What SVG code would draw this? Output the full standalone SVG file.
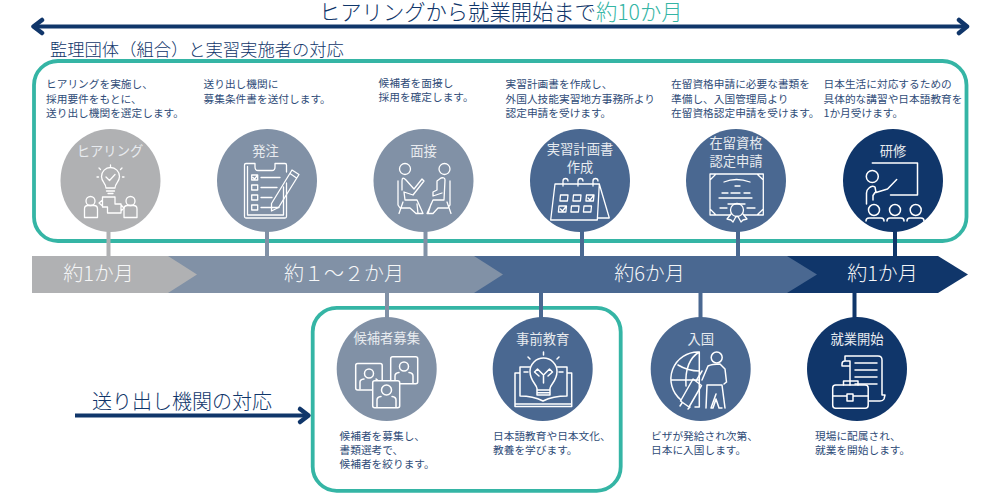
<svg xmlns="http://www.w3.org/2000/svg" width="1000" height="500" viewBox="0 0 1000 500">
<defs>
<style>
text{font-family:"Noto Sans CJK JP","Noto Sans",sans-serif;font-weight:300}
.t{font-size:10.700px;fill:#2f4c78;font-weight:400}
.c{font-size:13.300px;fill:#e8ebef;text-anchor:middle;font-weight:400}
.b{font-size:20px;fill:#f6f7f8;text-anchor:middle}
.h{fill:#10366a}
.box{fill:none;stroke:#35b5a5;stroke-width:3.800}
.ln{fill:none;stroke:#10366a;stroke-width:4}
.arr{fill:none;stroke:#10366a;stroke-width:4.500;stroke-linecap:round;stroke-linejoin:round}
.i{fill:none;stroke:#fff;stroke-width:1.300;stroke-linecap:round;stroke-linejoin:round}
.i2{fill:none;stroke:#fff;stroke-width:1.500;stroke-linecap:round;stroke-linejoin:round}
.gray{fill:#b0b1b3}.slate{fill:#8191a6}.blue{fill:#4a6891}.navy{fill:#10366a}
</style>
</defs>
<rect width="1000" height="500" fill="#fff"/>
<g id="header">
<text x="319" y="20" font-size="21.300" class="h">ヒアリングから就業開始まで<tspan fill="#35b5a5">約10か月</tspan></text>
<text x="50" y="56" font-size="17.300" class="h">監理団体（組合）と実習実施者の対応</text>
<text x="92" y="409" font-size="20" class="h">送り出し機関の対応</text>
</g>
<g id="frames">
<rect class="box" x="34" y="61" width="932.500" height="180" rx="24"/>
<rect class="box" x="312.700" y="307.800" width="308" height="183" rx="24"/>
</g>
<g id="connectors">
<path class="ln" d="M34 26.500H965"/>
<path class="arr" d="M42 20L33.500 26.500L42 33M959 20L967 26.500L959 33"/>
<path class="ln" d="M75 415.500H305"/>
<path class="arr" d="M300 409L308.500 415.500L300 422"/>
<g fill="none" stroke-width="4">
<path stroke="#b0b1b3" d="M108.500 225V256"/>
<path stroke="#8191a6" d="M267 225V256M425.500 225V256M387 293V325"/>
<path stroke="#4a6891" d="M582 225V256M738 225V256M541 293V325M700.500 293V325"/>
<path stroke="#10366a" d="M895 225V256M854.500 293V325"/>
</g>
</g>
<g id="band">
<path class="navy" d="M787 256H938L968 274.500L938 293H787Z"/>
<path class="blue" d="M474 256H787L817 274.500L787 293H474Z"/>
<path class="slate" d="M168 256H474L503 274.500L474 293H168Z"/>
<path class="gray" d="M32 256H168L197 274.500L168 293H32Z"/>
<text class="b" x="98.500" y="281">約1か月</text>
<text class="b" x="344" y="281">約１～２か月</text>
<text class="b" x="649.500" y="281">約6か月</text>
<text class="b" x="882.500" y="281">約1か月</text>
</g>
<g id="node-hearing">
<text class="t" x="46" y="88">ヒアリングを実施し、</text>
<text class="t" x="46" y="102.500">採用要件をもとに、</text>
<text class="t" x="46" y="117">送り出し機関を選定します。</text>
<ellipse class="gray" cx="110.500" cy="180.500" rx="50" ry="51.500"/>
<text class="c" x="110" y="155.500">ヒアリング</text>
<path class="i" d="M106 188C106 183 101.500 182 101.500 176.500A8.500 8.500 0 0 1 119.500 176.500C119.500 182 115 183 115 188ZM106.500 191H114.500M108 193.500H113M106 177L109.500 180.500L115 174.500M110.500 165V167M99 168L100.500 169.500M122 168L120.500 169.500M97 177H98.500M124 177H122.500"/>
<path class="i" d="M84.500 217.500V209Q84.500 205.500 88 205.500H94Q97.500 205.500 97.500 209V217.500ZM124 217.500V209Q124 205.500 127.500 205.500H133.500Q137 205.500 137 209V217.500Z"/>
<circle class="i" cx="90.500" cy="201" r="4.500"/><circle class="i" cx="130.500" cy="201" r="4.500"/>
<path class="i" d="M102.500 197H115V204H121V213H107.500V207H102.500ZM102.500 200L99 203L102.500 206M121 205L124 208L121 211"/>
</g>
<g id="node-order">
<text class="t" x="203.500" y="88">送り出し機関に</text>
<text class="t" x="203.500" y="102.500">募集条件書を送付します。</text>
<ellipse class="slate" cx="267" cy="180.500" rx="50" ry="51.500"/>
<text class="c" x="265.500" y="155.500">発注</text>
<path class="i" d="M255 163.500H246Q244.500 163.500 244.500 165V216.500Q244.500 218 246 218H285Q286.500 218 286.500 216.500V183M286.500 172V165Q286.500 163.500 285 163.500H275M255 163.500V167Q255 170.500 258 170.500H272Q275 170.500 275 167V163.500M247.500 166.500V215H283.500V187"/>
<path class="i" d="M251.700 175h6v5h-6zM251.700 185h6v5h-6zM251.700 195h6v5h-6zM251.700 205h6v5h-6zM261 177.500H280M261 187.500H277M261 197.500H272M261 207.500H279M253 177.500L254.500 179L257 176"/>
<path class="i" d="M292 170L299 174.500L278.500 207.500L271.500 211L271.500 203.500ZM290 173.500L296.500 178"/>
</g>
<g id="node-interview">
<text class="t" x="378.500" y="87">候補者を面接し</text>
<text class="t" x="378.500" y="101">採用を確定します。</text>
<ellipse class="slate" cx="423.500" cy="180.500" rx="50" ry="51.500"/>
<text class="c" x="423.500" y="155.500">面接</text>
<circle class="i" cx="405" cy="169" r="5.500"/><circle class="i" cx="444.500" cy="169" r="5.500"/>
<path class="i" d="M398 181V205L400 208H410L416 213.500H423L417 200H405L404 192L413 195L424 181L422 179L414 189L406 180Q402 176 402 181V190M399 213.500L403 202M417 204L418 213.500"/>
<path class="i" d="M450 181V205L448 208H438L433 213.500H427L433 200H444L445 180Q445 177 441 178L437 181L437 190L433 192L433 196L442 193M451 213.500L447 202M431 204L428 213.500"/>
</g>
<g id="node-plan">
<text class="t" x="505.500" y="88">実習計画書を作成し、</text>
<text class="t" x="505.500" y="102.500">外国人技能実習地方事務所より</text>
<text class="t" x="505.500" y="117">認定申請を受けます。</text>
<ellipse class="blue" cx="580" cy="180.500" rx="50" ry="51.500"/>
<text class="c" x="580" y="153.500">実習計画書</text>
<text class="c" x="580" y="172">作成</text>
<path class="i" d="M555 184H599.300L597.300 220H550.700ZM599.300 184L609.300 218H597.500M563 186V181A2.500 2.500 0 0 1 568 181M578 186V181A2.500 2.500 0 0 1 583 181M593 186V181A2.500 2.500 0 0 1 598 181"/>
<path class="i" d="M560.500 195h7.500l-.6 6h-7.500zM573.500 195h7.500l-.6 6h-7.500zM586.500 195h7.500l-.6 6h-7.500zM559 206h7.500l-.6 6h-7.500zM571.500 206h7.500l-.6 6h-7.500zM584 206h7.500l-.6 6h-7.500zM588 198l2 2l4-5M560.500 209l2 2l4-5"/>
</g>
<g id="node-coe">
<text class="t" x="671" y="88">在留資格申請に必要な書類を</text>
<text class="t" x="671" y="102.500">準備し、入国管理局より</text>
<text class="t" x="671" y="117">在留資格認定申請を受けます。</text>
<ellipse class="blue" cx="736" cy="180.500" rx="50" ry="51.500"/>
<text class="c" x="736" y="148">在留資格</text>
<text class="c" x="736" y="166">認定申請</text>
<path class="i" d="M730 215H710V174H763.300V215H744M710 180L716 174M757 174L763.300 180M710 209L716 215M757 215L763.300 209"/>
<path class="i" d="M724 182Q736 177 750 182M735 186H740M722 193H728M731 193H740M744 193H750M719 198H752M728 204H745M720 208H727M747 208H755"/>
<circle class="i" cx="737" cy="210" r="6.500"/>
<path class="i" d="M731 214L727 219L731 220L733 222L736 216.500L738 216.500L741 222L743 220L747 219L743 214"/>
</g>
<g id="node-training">
<text class="t" x="823.500" y="88">日本生活に対応するための</text>
<text class="t" x="823.500" y="102.500">具体的な講習や日本語教育を</text>
<text class="t" x="823.500" y="117">1か月受けます。</text>
<ellipse class="navy" cx="893" cy="180.500" rx="50" ry="51.500"/>
<text class="c" x="893" y="155.500">研修</text>
<path class="i2" d="M872.300 163H917.500V195H890.500M896.700 179.500L887.500 189L876 192.500L875 187Q872 185 869 188Q866.500 190 866.500 193V204M875 192.500L873 195.500V200"/>
<circle class="i2" cx="872.300" cy="176.500" r="6"/>
<circle class="i2" cx="874" cy="210" r="5.500"/><circle class="i2" cx="895" cy="210" r="5.500"/><circle class="i2" cx="915.700" cy="210" r="5.500"/>
<path class="i2" d="M866 221Q866 218 869 218H881Q884 218 884 221M887 221Q887 218 890 218H901Q904 218 904 221M907 221Q907 218 910 218H921Q924 218 924 221"/>
</g>
<g id="node-recruit">
<ellipse class="slate" cx="386.700" cy="369" rx="50" ry="52"/>
<text class="c" x="386.700" y="343">候補者募集</text>
<g class="i2">
<rect x="355.700" y="363.500" width="26.500" height="26.500" rx="2" fill="#8191a6"/>
<circle cx="369" cy="373.500" r="4.500"/><path d="M360 389V382Q360 379.500 364 379M376 379Q378 380 378 382V384"/>
<rect x="390.700" y="356.700" width="27" height="27" rx="2" fill="#8191a6"/>
<circle cx="404" cy="366.500" r="4.500"/><path d="M395 383V376Q395 373 399 372.500M409 372.500Q413 373 413 376V383"/>
<rect x="372.700" y="380.700" width="27" height="27" rx="2" fill="#8191a6"/>
<circle cx="386.500" cy="390" r="5"/><path d="M377 407V400Q377 397 381 396.500M392 396.500Q396 397 396 400V407"/>
</g>
<text class="t" x="339.500" y="440">候補者を募集し、</text>
<text class="t" x="339.500" y="454">書類選考で、</text>
<text class="t" x="339.500" y="468">候補者を絞ります。</text>
</g>
<g id="node-education">
<ellipse class="blue" cx="542.700" cy="369" rx="50" ry="52"/>
<text class="c" x="542.700" y="344">事前教育</text>
<path class="i2" d="M537 395V388.500C537 385 530 381 530 371.500A13.500 13.500 0 0 1 557 371.500C557 381 550 385 550 388.500V395ZM537 390H550M537 392.700H550M539 376L534.500 372L537.500 369L543.500 375L549.500 369L552.500 372L548 376M543.500 375V383M543.500 352V355M528 357L530 359M559 357L557 359"/>
<path class="i2" d="M530 367H520V396Q533 396 543 401Q553 396 567 396V367H557M520 373H515V406.500H571.700V373H567M515 404H571.700M524 372H528M559 372H563"/>
<text class="t" x="493" y="440">日本語教育や日本文化、</text>
<text class="t" x="493" y="454">教養を学びます。</text>
</g>
<g id="node-entry">
<ellipse class="blue" cx="700.700" cy="369" rx="50" ry="52"/>
<text class="c" x="700.700" y="344">入国</text>
<path class="i2" d="M699.300 352A27 27 0 0 0 681 400M699.300 352V407H695M699.300 352C689 358 685 370 686 386M678 365Q688 371 699.300 371M671.500 380H699.300"/>
<path class="i2" d="M693 379L701.500 385.500L689 407L680.500 401ZM696 381L702 371M682 403L680 406M690 407L688 409"/>
<circle class="i2" cx="716.700" cy="357.500" r="5.500"/>
<path class="i2" d="M702 380L708 366Q712 364 720 364L725 369L726.500 382L724 384M707 385H722L725 408M707 385L706 408M716 394L711 408H713L716 399L719 408H722"/>
<text class="t" x="651" y="440">ビザが発給され次第、</text>
<text class="t" x="651" y="454">日本に入国します。</text>
</g>
<g id="node-start">
<ellipse class="navy" cx="857" cy="369" rx="50" ry="52"/>
<text class="c" x="857" y="344">就業開始</text>
<path class="i2" d="M842 366H850V361H845Q842 361 842 364V366ZM845 356V361M845 356H878Q882 356 882 360V395H885L884 399Q883 401 880 401H869M850 361V385M855 363H877M855 370H877M855 377H877M855 384H877"/>
<rect class="i2" x="832.700" y="385" width="35.500" height="23.300" rx="3" fill="#10366a"/>
<path class="i2" d="M843.500 385V381H858V385M833 396H847M853 396H868M847 394H853V401H847Z"/>
<text class="t" x="815" y="440">現場に配属され、</text>
<text class="t" x="815" y="454">就業を開始します。</text>
</g>
</svg>
